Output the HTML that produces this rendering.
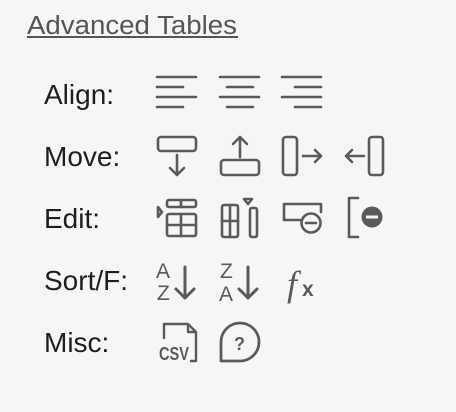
<!DOCTYPE html>
<html><head><style>
html,body{margin:0;padding:0;background:#f6f6f6;}
svg{display:block}
</style></head><body>
<svg width="456" height="412" viewBox="0 0 456 412" xmlns="http://www.w3.org/2000/svg">
<rect width="456" height="412" fill="#f6f6f6"/>
<text x="27" y="34" font-family="Liberation Sans, sans-serif" font-size="25.5" fill="#555" textLength="210" lengthAdjust="spacingAndGlyphs">Advanced Tables</text>
<rect x="27" y="36" width="211" height="2" fill="#555"/>
<g font-family="Liberation Sans, sans-serif" font-size="28" fill="#1e1e1e">
<text x="44" y="104">Align:</text>
<text x="44" y="166">Move:</text>
<text x="44" y="228">Edit:</text>
<text x="44" y="290">Sort/F:</text>
<text x="44" y="352">Misc:</text>
</g>
<g stroke="#5a5a5a" stroke-width="2.6" fill="none" stroke-linecap="round" stroke-linejoin="round">
<path d="M157 77H196M157 87H183M157 97H196M157 107H183"/>
<path d="M220 77H259M227 87H253M220 97H259M227 107H253"/>
<path d="M282 77H321M295 87H321M282 97H321M295 107H321"/>
<rect x="158" y="137" width="38" height="14" rx="3"/>
<path d="M177 155V175M170 168L177 175L184 168"/>
<rect x="221" y="160" width="38" height="15" rx="3"/>
<path d="M240 157V137M233 144L240 137L247 144"/>
<rect x="283" y="137" width="14" height="38" rx="3"/>
<path d="M303 156H321M315 150L321 156L315 162"/>
<rect x="369" y="137" width="14" height="38" rx="3"/>
<path d="M364 156H346M352 150L346 156L352 162"/>
<path d="M158 207L162 212L158 217Z"/>
<rect x="167" y="200" width="29" height="7" rx="2"/>
<rect x="167" y="214" width="29" height="22" rx="2"/>
<path d="M167 225H196M181 214V236M181 200V207"/>
<rect x="222" y="205" width="16" height="32" rx="2"/>
<path d="M230 205V237M222 221H238"/>
<rect x="250" y="208" width="7" height="29" rx="2"/>
<path d="M244 199H252L248 204Z"/>
<path d="M300 220H284V204H321V212"/>
<circle cx="311" cy="223" r="9.5"/>
<path d="M306 223H316"/>
<path d="M358 198H349V237H358"/>
</g>
<circle cx="372" cy="217" r="10.5" fill="#5a5a5a"/>
<rect x="366" y="215.5" width="12" height="3" fill="#f6f6f6"/>
<g font-family="Liberation Sans, sans-serif" font-size="21" fill="#5a5a5a">
<text x="156" y="278">A</text>
<text x="157" y="300">Z</text>
<text x="220" y="278">Z</text>
<text x="219" y="301">A</text>
</g>
<g stroke="#5a5a5a" stroke-width="3" fill="none" stroke-linecap="round" stroke-linejoin="round">
<path d="M185 267V298M176 289L185 298L194 289"/>
<path d="M248 267V298M239 289L248 298L257 289"/>
</g>
<text x="287" y="296" font-family="Liberation Serif, serif" font-style="italic" font-size="36" fill="#5a5a5a">f</text>
<text x="302" y="296" font-family="Liberation Sans, sans-serif" font-weight="bold" font-size="21" fill="#5a5a5a">x</text>
<g stroke="#5a5a5a" stroke-width="2.4" fill="none" stroke-linejoin="round">
<path d="M164 339V324H188L196 332V361H190"/>
<path d="M188 324V332H196"/>
<path d="M221 361V342A19 19 0 1 1 240 361Z" stroke-width="2.8"/>
</g>
<text x="159" y="360" font-family="Liberation Sans, sans-serif" font-weight="bold" font-size="18" fill="#5a5a5a" textLength="30" lengthAdjust="spacingAndGlyphs">CSV</text>
<text x="234" y="350" font-family="Liberation Sans, sans-serif" font-weight="bold" font-size="18" fill="#5a5a5a">?</text>
</svg>
</body></html>
